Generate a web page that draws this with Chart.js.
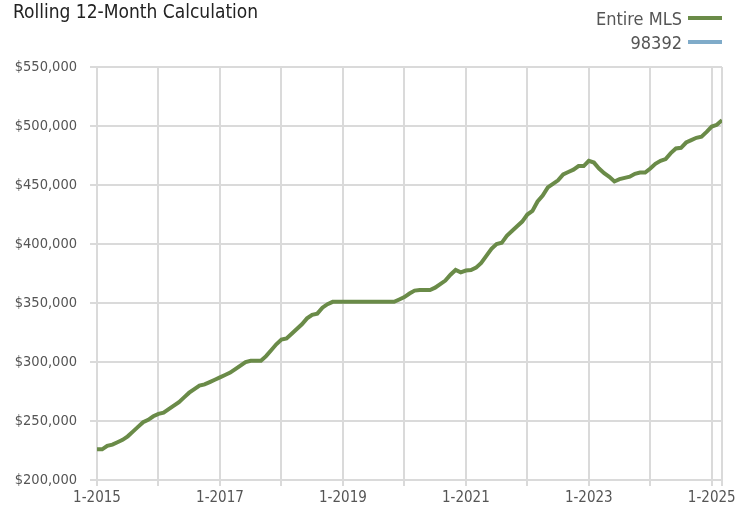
<!DOCTYPE html>
<html>
<head>
<meta charset="utf-8">
<script src="https://cdn.jsdelivr.net/npm/chart.js@4"></script>
<style>
  body { margin: 0; background: #fff; }
  #wrap { position: relative; width: 750px; height: 515px; }
  #legend { position: absolute; right: 28px; top: 6px; font-family: 'Liberation Sans Narrow', 'DejaVu Sans Condensed', sans-serif; font-size: 18px; color: #555; text-align: right; }
  .item { display: flex; justify-content: flex-end; align-items: center; height: 24px; }
  .swatch { display: inline-block; width: 34px; height: 4px; margin-left: 6px; }
</style>
</head>
<body>
<div id="wrap">
  <canvas id="chart" width="750" height="515"></canvas>
  <div id="legend"></div>
</div>
<script>
const startYear = 2015;
const tickLabels = ["1-2015", "1-2017", "1-2019", "1-2021", "1-2023", "1-2025"];
const seriesNames = ["Entire MLS", "98392"];
const seriesColors = ["#6a8b48", "#7fabc9"];

// monthly rolling 12-month values, Jan 2015 .. Mar 2025
const entireMls = [
  226000, 226000, 229000, 230000, 232000, 234000, 237000, 241000, 245000, 249000, 251000, 254000,
  256000, 257000, 260000, 263000, 266000, 270000, 274000, 277000, 280000, 281000, 283000, 285000,
  287000, 289000, 291000, 294000, 297000, 300000, 301000, 301000, 301000, 305000, 310000, 315000,
  319000, 320000, 324000, 328000, 332000, 337000, 340000, 341000, 346000, 349000, 351000, 351000,
  351000, 351000, 351000, 351000, 351000, 351000, 351000, 351000, 351000, 351000, 351000, 353000,
  355000, 358000, 360500, 361000, 361000, 361000, 363000, 366000, 369000, 374000, 378000, 376000,
  377500, 378000, 380000, 384000, 390000, 396000, 400000, 401000, 407000, 411000, 415000, 419000,
  425000, 428000, 436000, 441000, 448000, 451000, 454000, 459000, 461000, 463000, 466000, 466000,
  470500, 469000, 464000, 460000, 457000, 453000, 455000, 456000, 457000, 459500, 460500, 460500,
  464000, 468000, 470500, 472000, 477000, 481000, 481500, 486000, 488000, 490000, 491000, 495000,
  499500, 501000, 505000
];
const zip98392 = [];

const font = "'Liberation Sans Narrow', 'DejaVu Sans Condensed', sans-serif";
const lastIndex = entireMls.length - 1;

const legend = document.getElementById("legend");
seriesNames.forEach((name, i) => {
  const row = document.createElement("div");
  row.className = "item";
  row.innerHTML = "<span>" + name + "</span><span class='swatch' style='background:" + seriesColors[i] + "'></span>";
  legend.appendChild(row);
});

const ctx = document.getElementById("chart");

new Chart(ctx, {
  type: "line",
  data: {
    datasets: [
      {
        label: seriesNames[0],
        data: entireMls.map((v, i) => ({ x: i, y: v })),
        borderColor: seriesColors[0],
        borderWidth: 4,
        pointRadius: 0,
        tension: 0
      },
      {
        label: seriesNames[1],
        data: zip98392.map((v, i) => ({ x: i, y: v })),
        borderColor: seriesColors[1],
        borderWidth: 4,
        pointRadius: 0
      }
    ]
  },
  options: {
    responsive: false,
    animation: false,
    layout: { padding: { left: 13, right: 28, top: 0, bottom: 0 } },
    plugins: {
      legend: { display: false },
      tooltip: { enabled: false },
      title: {
        display: true,
        text: "Rolling 12-Month Calculation",
        align: "start",
        color: "#222",
        font: { family: font, size: 19, weight: "normal" },
        padding: { top: 2, bottom: 42.2 }
      }
    },
    scales: {
      x: {
        type: "linear",
        min: 0,
        max: lastIndex,
        afterBuildTicks: (scale) => {
          const ticks = [];
          for (let v = 0; v <= lastIndex; v += 12) ticks.push({ value: v });
          ticks.push({ value: lastIndex });
          scale.ticks = ticks;
        },
        afterFit: (scale) => { scale.height = 35; },
        grid: { color: "#dadada", lineWidth: 2, tickLength: 6 },
        border: { color: "#dadada", width: 2 },
        ticks: {
          autoSkip: false,
          maxRotation: 0,
          padding: 3,
          color: "#555",
          font: { family: font, size: 15 },
          callback: (v) => (v % 24 === 0 ? tickLabels[v / 24] : "")
        }
      },
      y: {
        min: 200000,
        max: 550000,
        afterFit: (scale) => { scale.width = 84; },
        grid: { color: "#dadada", lineWidth: 2, tickLength: 7 },
        border: { color: "#dadada", width: 2 },
        ticks: {
          stepSize: 50000,
          padding: 13,
          color: "#555",
          font: { family: font, size: 14.5 },
          callback: (v) => "$" + v.toLocaleString("en-US")
        }
      }
    }
  }
});
</script>
</body>
</html>
